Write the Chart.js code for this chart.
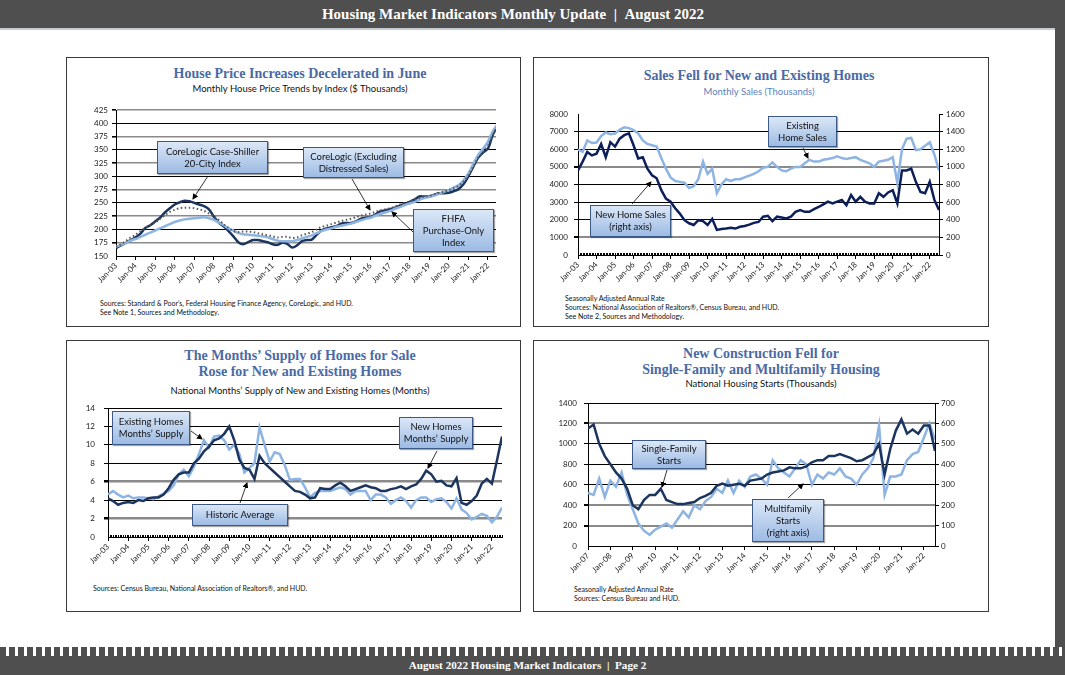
<!DOCTYPE html>
<html>
<head>
<meta charset="utf-8">
<script src="https://cdn.jsdelivr.net/npm/chart.js@4.4.1/dist/chart.umd.min.js"></script>
<style>
  body { margin: 0; width: 1065px; height: 675px; position: relative; background: #fff; overflow: hidden; font-family: Lato, "Open Sans", sans-serif; }
  .abs { position: absolute; }
  .bar { position: absolute; left: 0; width: 1065px; background: #4f4f4f; }
  .bartext { position: absolute; left: 0; width: 1055px; color: #fff; text-align: center; font-family: "Liberation Serif", serif; font-weight: bold; white-space: nowrap; }
  .panel { position: absolute; border: 1px solid #3a3a3a; box-sizing: border-box; background: #fff; }
  .title { position: absolute; width: 440px; text-align: center; font-family: "Liberation Serif", serif; font-weight: bold; font-size: 14px; color: #4a6aa5; line-height: 16px; white-space: nowrap; }
  .sub { position: absolute; width: 440px; text-align: center; font-size: 9.5px; color: #111; line-height: 12px; white-space: nowrap; }
  .src { position: absolute; font-size: 7px; line-height: 9px; color: #111; white-space: nowrap; }
  .box { position: absolute; box-sizing: border-box; border: 1px solid #3d5a86; background: linear-gradient(#dbe7f7, #9dbbe4); color: #111; font-size: 9.5px; line-height: 12px; text-align: center; display: flex; align-items: center; justify-content: center; box-shadow: 1px 1px 1px rgba(0,0,0,0.35); white-space: nowrap; }
  canvas { position: absolute; }
</style>
</head>
<body>

<div class="bar" style="top:0;height:28px;"></div>
<div class="bartext" style="top:0;width:1026px;height:28px;line-height:28px;font-size:15px;">Housing Market Indicators Monthly Update&nbsp; | &nbsp;August 2022</div>
<div class="abs" style="left:0;top:28px;width:1065px;height:2px;background:#c5ccd3;"></div>
<div class="abs" style="left:1055px;top:0;width:10px;height:675px;background:#4f4f4f;"></div>

<div class="panel" style="left:66px;top:57px;width:455px;height:270px;"></div>
<div class="panel" style="left:533px;top:57px;width:456px;height:270px;"></div>
<div class="panel" style="left:66px;top:340px;width:455px;height:272px;"></div>
<div class="panel" style="left:533px;top:340px;width:456px;height:272px;"></div>

<!-- panel 1 -->
<div class="title" style="left:80px;top:66px;">House Price Increases Decelerated in June</div>
<div class="sub" style="left:80px;top:83px;">Monthly House Price Trends by Index ($ Thousands)</div>
<div class="src" style="left:100px;top:299px;">Sources: Standard &amp; Poor’s, Federal Housing Finance Agency, CoreLogic, and HUD.<br>See Note 1, Sources and Methodology.</div>
<canvas id="priceChart" width="455" height="270" style="left:66px;top:57px;"></canvas>

<!-- panel 2 -->
<div class="title" style="left:539px;top:68px;">Sales Fell for New and Existing Homes</div>
<div class="sub" style="left:539px;top:86px;color:#5b7fbf;">Monthly Sales (Thousands)</div>
<div class="src" style="left:565px;top:294px;">Seasonally Adjusted Annual Rate<br>Sources: National Association of Realtors®, Census Bureau, and HUD.<br>See Note 2, Sources and Methodology.</div>
<canvas id="salesChart" width="456" height="270" style="left:533px;top:57px;"></canvas>

<!-- panel 3 -->
<div class="title" style="left:80px;top:348px;">The Months’ Supply of Homes for Sale<br>Rose for New and Existing Homes</div>
<div class="sub" style="left:80px;top:385px;">National Months’ Supply of New and Existing Homes (Months)</div>
<div class="src" style="left:93px;top:584px;">Sources: Census Bureau, National Association of Realtors®, and HUD.</div>
<canvas id="supplyChart" width="455" height="272" style="left:66px;top:340px;"></canvas>

<!-- panel 4 -->
<div class="title" style="left:541px;top:346px;">New Construction Fell for<br>Single-Family and Multifamily Housing</div>
<div class="sub" style="left:541px;top:378px;">National Housing Starts (Thousands)</div>
<div class="src" style="left:574px;top:585px;">Seasonally Adjusted Annual Rate<br>Sources: Census Bureau and HUD.</div>
<canvas id="startsChart" width="456" height="272" style="left:533px;top:340px;"></canvas>

<!-- callout arrows -->
<svg class="abs" style="left:0;top:0;" width="1065" height="675">
  <defs>
    <marker id="ah" markerWidth="6" markerHeight="6" refX="5" refY="3" orient="auto" markerUnits="userSpaceOnUse">
      <path d="M0,0 L6,3 L0,6 z" fill="#000"/>
    </marker>
  </defs>
  <g stroke="#000" stroke-width="0.8" marker-end="url(#ah)">
    <line x1="208" y1="176" x2="193" y2="199"/>
    <line x1="352" y1="179" x2="370" y2="210"/>
    <line x1="413" y1="232" x2="392" y2="212"/>
    <line x1="803" y1="148" x2="808" y2="158"/>
    <line x1="632" y1="204" x2="651" y2="182"/>
    <line x1="191" y1="431" x2="202" y2="439"/>
    <line x1="437" y1="451" x2="428" y2="468"/>
    <line x1="240" y1="503" x2="247" y2="483"/>
    <line x1="667" y1="470" x2="662" y2="487"/>
    <line x1="788" y1="498" x2="803" y2="484"/>
  </g>
</svg>

<!-- callout boxes -->
<div class="box" style="left:157px;top:141px;width:111px;height:33px;">CoreLogic Case-Shiller<br>20-City Index</div>
<div class="box" style="left:303px;top:147px;width:101px;height:31px;">CoreLogic (Excluding<br>Distressed Sales)</div>
<div class="box" style="left:413px;top:209px;width:81px;height:43px;">FHFA<br>Purchase-Only<br>Index</div>
<div class="box" style="left:768px;top:116px;width:69px;height:31px;">Existing<br>Home Sales</div>
<div class="box" style="left:590px;top:205px;width:81px;height:32px;">New Home Sales<br>(right axis)</div>
<div class="box" style="left:112px;top:411px;width:78px;height:34px;">Existing Homes<br>Months’ Supply</div>
<div class="box" style="left:399px;top:417px;width:74px;height:32px;">New Homes<br>Months’ Supply</div>
<div class="box" style="left:192px;top:504px;width:96px;height:22px;">Historic Average</div>
<div class="box" style="left:632px;top:440px;width:74px;height:29px;">Single-Family<br>Starts</div>
<div class="box" style="left:752px;top:499px;width:72px;height:43px;">Multifamily<br>Starts<br>(right axis)</div>

<div class="abs" style="left:0;top:647px;width:1065px;height:9px;background:repeating-linear-gradient(90deg,#4f4f4f 0px,#4f4f4f 6px,#fff 6px,#fff 9px);"></div>
<div class="bar" style="top:656px;height:19px;"></div>
<div class="bartext" style="top:656px;height:19px;line-height:19px;font-size:11.2px;">August 2022 Housing Market Indicators&nbsp; | &nbsp;Page 2</div>

<script>
// Tick labels (one per January)
const priceYears = ["Jan-03","Jan-04","Jan-05","Jan-06","Jan-07","Jan-08","Jan-09","Jan-10","Jan-11","Jan-12","Jan-13","Jan-14","Jan-15","Jan-16","Jan-17","Jan-18","Jan-19","Jan-20","Jan-21","Jan-22"];
const startsYears = ["Jan-07","Jan-08","Jan-09","Jan-10","Jan-11","Jan-12","Jan-13","Jan-14","Jan-15","Jan-16","Jan-17","Jan-18","Jan-19","Jan-20","Jan-21","Jan-22"];

// Quarterly readings (Jan, Apr, Jul, Oct) from Jan-03
const caseShiller = [165,170,175,180, 185,192,203,208, 215,222,232,240, 247,251,254,253, 250,247,244,238, 224,213,206,197, 187,176,172,176, 180,180,178,176, 172,171,175,173, 166,170,178,180, 181,190,198,202, 204,206,211,212, 212,215,220,222, 223,228,234,236, 238,241,245,248, 252,256,262,262, 262,265,268,268, 269,272,276,285, 300,318,335,345, 352,378,395];
const coreLogic = [167,172,178,185, 190,197,203,208, 213,220,227,233, 237,240,241,241, 240,238,235,230, 225,218,210,203, 197,195,196,196, 195,193,191,189, 187,185,186,186, 184,185,189,192, 195,200,205,207, 210,213,216,218, 220,223,226,228, 230,233,236,238, 240,243,247,250, 253,256,259,262, 263,266,269,271, 274,278,282,290, 302,318,335,345, 358,378,395];
const fhfa = [167,171,175,179, 182,186,190,194, 198,202,206,210, 214,217,219,220, 221,222,223,221, 218,213,208,202, 198,193,191,190, 189,188,187,185, 182,179,178,178, 178,180,183,186, 189,193,197,200, 202,205,207,209, 211,214,217,220, 222,226,229,232, 235,239,242,246, 249,252,256,259, 261,264,267,271, 274,279,283,292, 305,323,340,352, 365,385,398];

const existingSales = [5980,5850,6500,6350, 6380,6750,6950,6850, 6890,7100,7250,7200, 7080,6900,6500,6300, 6230,6150,5500,4900, 4400,4200,4150,4100, 3800,3900,4300,5300, 4600,4900,3500,4000, 4300,4200,4300,4300, 4400,4500,4600,4750, 4950,5000,5250,5000, 4800,4750,4900,5000, 5000,5200,5400,5300, 5300,5400,5450,5500, 5600,5500,5450,5500, 5550,5400,5300,5200, 5000,5300,5350,5400, 5550,4100,6000,6600, 6640,5950,6000,6200, 6400,5700,4800];
const newHomeSales = [960,1060,1170,1130, 1150,1260,1110,1280, 1230,1320,1360,1380, 1245,1095,1110,980, 905,870,735,640, 605,530,470,395, 360,340,395,385, 340,410,285,295, 300,310,300,320, 330,345,365,375, 435,445,385,435, 425,415,435,490, 510,490,490,520, 545,575,605,585, 605,625,565,680, 605,660,605,585, 585,700,660,710, 735,585,960,960, 980,830,715,700, 830,625,510];

const newSupply = [4.2,3.9,3.5,3.7, 3.8,3.7,4.0,3.9, 4.2,4.3,4.3,4.6, 5.3,6.2,6.8,7.0, 7.0,8.0,8.5,9.3, 9.8,10.5,10.7,11.2, 12.0,10.5,8.4,7.5, 7.3,6.3,8.8,8.0, 7.5,7.0,6.5,6.0, 5.5,5.0,4.9,4.6, 4.2,4.3,5.3,5.2, 5.2,5.6,5.9,5.5, 5.0,5.2,5.4,5.6, 5.4,5.3,5.0,5.0, 5.2,5.3,5.5,5.2, 5.5,5.7,6.3,7.2, 6.8,6.0,6.1,5.6, 5.5,6.4,3.7,3.5, 3.9,4.5,5.8,6.3, 5.8,8.3,10.9];
const existingSupply = [4.6,5.0,4.6,4.3, 4.5,4.2,4.3,4.3, 4.2,4.1,4.4,4.7, 5.0,5.6,6.8,7.3, 6.6,7.6,9.0,10.5, 9.7,10.9,11.0,10.5, 9.5,10.0,9.0,7.0, 7.5,8.0,11.9,10.0, 8.2,9.2,9.0,7.8, 6.2,6.3,6.3,5.4, 4.3,4.8,5.0,5.0, 5.0,5.2,5.4,5.2, 4.6,5.0,5.0,5.0, 4.0,4.6,4.6,4.3, 3.6,4.0,4.3,3.9, 3.2,4.0,4.3,4.3, 3.8,4.1,4.2,3.8, 3.1,4.2,3.0,2.6, 1.9,2.2,2.5,2.3, 1.6,2.2,3.2];

// Quarterly readings from Jan-07
const singleFamily = [1150,1190,1000,880, 800,720,660,560, 400,360,450,500, 500,560,450,430, 410,410,420,430, 470,490,520,590, 610,590,600,610, 590,640,650,660, 700,720,730,740, 770,760,760,780, 820,840,840,880, 880,900,880,860, 830,840,870,900, 1000,700,950,1130, 1240,1100,1140,1100, 1180,1180,930];
const multiFamily = [260,250,330,240, 320,290,360,250, 180,110,75,55, 80,95,110,90, 130,170,140,200, 180,220,240,280, 260,320,260,320, 290,340,350,330, 300,420,380,360, 340,380,420,400, 300,350,330,360, 350,380,340,330, 300,350,380,430, 590,250,340,340, 350,420,450,460, 530,600,520];

const DARK = "#1c355e";
const NAVY = "#0c1f5a";
const LIGHT = "#8db4e2";
const tickFont = { family: "Lato", size: 8 };

// Function to turn a list of quarterly values into points (x = months from start)
function toPoints(values) {
  return values.map((v, i) => ({ x: i * 3, y: v }));
}

// Function to draw small monthly tick marks on the bottom axis
const monthTicks = {
  id: "monthTicks",
  afterDatasetsDraw(chart, args, opts) {
    if (!opts.on) return;
    const xs = chart.scales.x;
    const ctx = chart.ctx;
    const y0 = chart.chartArea.bottom;
    ctx.save();
    ctx.fillStyle = "#000";
    for (let m = 0; m <= xs.max; m++) {
      const px = Math.round(xs.getPixelForValue(m));
      ctx.fillRect(px, y0 - 2, 1, 2);
    }
    ctx.restore();
  }
};

function xAxis(labels, max, height) {
  return {
    type: "linear", min: 0, max: max,
    afterBuildTicks: s => { s.ticks = labels.map((_, i) => ({ value: i * 12 })); },
    afterFit: s => { s.height = height; },
    ticks: { callback: v => labels[v / 12], autoSkip: false, maxRotation: 45, minRotation: 45, font: tickFont, color: "#1a1a1a", padding: 1 },
    grid: { drawOnChartArea: false, tickLength: 4, color: "#000" },
    border: { color: "#000", width: 1 }
  };
}

function yAxis(position, min, max, step, width, pad, gridStyle) {
  return {
    type: "linear", position: position, min: min, max: max,
    afterFit: s => { s.width = width; },
    ticks: { stepSize: step, font: tickFont, color: "#1a1a1a", padding: pad, callback: v => String(v) },
    grid: {
      drawOnChartArea: !!gridStyle,
      tickLength: 4,
      tickColor: "#000",
      color: ctx => gridStyle ? gridStyle(ctx.tick.value)[0] : "#000",
      lineWidth: ctx => gridStyle ? gridStyle(ctx.tick.value)[1] : 1
    },
    border: { color: "#000", width: 1 }
  };
}

function lineSet(label, values, color, width, axis, extra) {
  return Object.assign({
    label: label, data: toPoints(values), borderColor: color, borderWidth: width,
    pointRadius: 0, tension: 0, yAxisID: axis || "y", fill: false
  }, extra || {});
}

function makeChart(id, datasets, scales, padding, ticksOn) {
  const ctx = document.querySelector(id).getContext("2d");
  return new Chart(ctx, {
    type: "line",
    data: { datasets: datasets },
    options: {
      responsive: false, animation: false,
      layout: { padding: padding },
      plugins: { legend: { display: false }, tooltip: { enabled: false }, monthTicks: { on: ticksOn } },
      scales: scales
    },
    plugins: [monthTicks]
  });
}

// House prices
makeChart("#priceChart", [
  lineSet("CoreLogic (Excluding Distressed Sales)", coreLogic, "#5a5a5a", 2, "y", { borderDash: [1.5, 2.5], tension: 0.3 }),
  lineSet("FHFA Purchase-Only Index", fhfa, LIGHT, 2.5, "y", { tension: 0.3 }),
  lineSet("CoreLogic Case-Shiller 20-City Index", caseShiller, DARK, 2.5, "y", { tension: 0.3 })
], {
  x: xAxis(priceYears, 233, 71),
  y: yAxis("left", 150, 425, 25, 50, 4, v => v === 150 ? ["rgba(0,0,0,0)", 0] : (v % 50 === 0 ? ["#000", 1] : ["#8a8a8a", 1.6]))
}, { left: 0, right: 25, top: 53, bottom: 0 }, false);

// Home sales
makeChart("#salesChart", [
  lineSet("Existing Home Sales", existingSales, LIGHT, 2.5, "y"),
  lineSet("New Home Sales", newHomeSales, NAVY, 2.5, "y2")
], {
  x: xAxis(priceYears, 234, 72),
  y: yAxis("left", 0, 8000, 1000, 45, 6, v => (v === 0 || v === 8000) ? ["rgba(0,0,0,0)", 0] : ((v === 1000 || v === 5000) ? ["#8a8a8a", 2] : ["#000", 1])),
  y2: yAxis("right", 0, 1600, 200, 35, 3, null)
}, { left: 0, right: 15, top: 57, bottom: 0 }, true);

// Months' supply
makeChart("#supplyChart", [
  lineSet("New Homes Months' Supply", newSupply, DARK, 2.5, "y"),
  lineSet("Existing Homes Months' Supply", existingSupply, LIGHT, 2.5, "y")
], {
  x: xAxis(priceYears, 234, 75),
  y: yAxis("left", 0, 14, 2, 42, 9, v => v === 0 ? ["rgba(0,0,0,0)", 0] : ((v === 2 || v === 6) ? ["#8a8a8a", 2.5] : ["#000", 1]))
}, { left: 0, right: 19, top: 68, bottom: 0 }, true);

// Housing starts
makeChart("#startsChart", [
  lineSet("Single-Family Starts", singleFamily, DARK, 2.5, "y"),
  lineSet("Multifamily Starts", multiFamily, LIGHT, 2.5, "y2")
], {
  x: xAxis(startsYears, 186, 66),
  y: yAxis("left", 0, 1400, 200, 55, 7, v => v === 0 ? ["rgba(0,0,0,0)", 0] : ((v === 200 || v === 400 || v === 1200) ? ["#8a8a8a", 2] : ["#000", 1])),
  y2: yAxis("right", 0, 700, 100, 35, 2, null)
}, { left: 0, right: 19, top: 63, bottom: 0 }, false);
</script>
</body>
</html>
